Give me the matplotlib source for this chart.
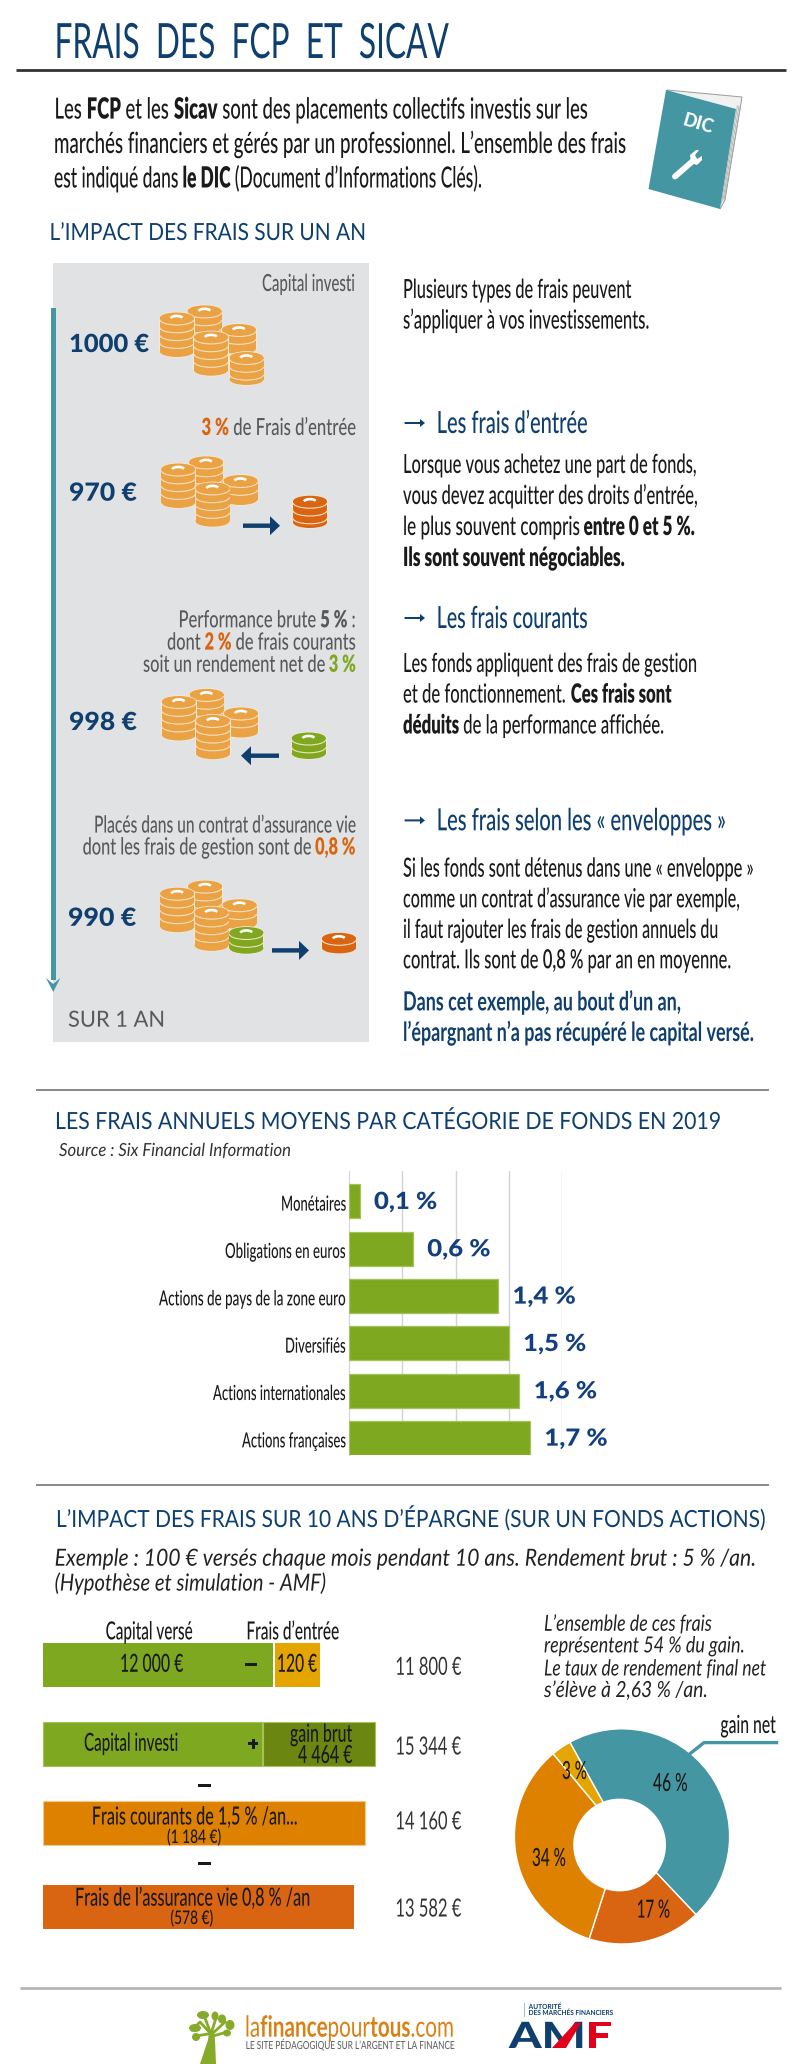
import matplotlib
matplotlib.use("Agg")
import matplotlib.pyplot as plt
from matplotlib.patches import Rectangle, Ellipse, Polygon, Circle, Arc
from matplotlib.patheffects import AbstractPathEffect
from matplotlib.transforms import Affine2D
from matplotlib.font_manager import FontProperties

# ---------- data ----------
categories = ["Monétaires", "Obligations en euros", "Actions de pays de la zone euro",
              "Diversifiés", "Actions internationales", "Actions françaises"]
fee_values = [0.1, 0.6, 1.4, 1.5, 1.6, 1.7]
fee_labels = ["0,1 %", "0,6 %", "1,4 %", "1,5 %", "1,6 %", "1,7 %"]
category_widths = [65, 121, 187, 61, 133, 104]
donut_values = [46, 17, 34, 3]
donut_labels = ["46 %", "17 %", "34 %", "3 %"]
row_totals = ["11 800 €", "15 344 €", "14 160 €", "13 582 €"]
impact_amounts = ["1000 €", "970 €", "998 €", "990 €"]

NAVY = "#0f3f6e"; BLUE2 = "#123f7f"; TEAL = "#4596a3"; GRAY = "#58595b"; PANEL = "#e1e2e4"
COIN = "#eaa244"; ORANGE = "#d96512"; GREEN = "#7ea81f"; AMBER = "#de8000"; YEL = "#e5a500"
DGREEN = "#6b8712"; INK = "#1a1a1a"; RED = "#e2001a"

W, H = 800, 2064
fig = plt.figure(figsize=(W / 100, H / 100), dpi=100, facecolor="white")
bg = fig.add_axes([0, 0, 1, 1]); bg.set_xlim(0, W); bg.set_ylim(H, 0); bg.axis("off")
renderer = fig.canvas.get_renderer()


class Tall(AbstractPathEffect):
    """Draw a text taller than its font size, as in a condensed face, about its anchor."""
    def __init__(self, sx, sy, x0, y0):
        super().__init__()
        self.sx, self.sy, self.x0, self.y0 = sx, sy, x0, y0

    def draw_path(self, renderer, gc, tpath, affine, rgbFace=None):
        aff = affine + Affine2D().translate(-self.x0, -self.y0).scale(self.sx, self.sy).translate(self.x0, self.y0)
        renderer.draw_path(gc, tpath, aff, rgbFace)


def adv(s, size, weight, style):
    fp = FontProperties(family="Lato", size=size, weight=weight, style=style)
    a = renderer.get_text_width_height_descent("x" + s + "x", fp, False)[0]
    b = renderer.get_text_width_height_descent("xx", fp, False)[0]
    return a - b


def line(x0, x1, y, runs, size, color=INK, style="normal", weight="medium"):
    """Set a line between pixel columns x0 and x1 with its baseline at y; size gives the drawn height."""
    runs = [(r, {}) if isinstance(r, str) else r for r in runs]
    big = sum(adv(t, 40, k.get("weight", weight), style) for t, k in runs) * size / 40
    squeeze = (x1 - x0) / big
    fs = size * squeeze
    ws = [adv(t, fs, k.get("weight", weight), style) for t, k in runs]
    fine = (x1 - x0) / sum(ws)
    x = x0
    for (t, k), w in zip(runs, ws):
        bg.text(x, y, t, fontsize=fs, family="Lato", va="baseline", ha="left", style=style,
                color=k.get("color", color), weight=k.get("weight", weight),
                path_effects=[Tall(fine, 1 / squeeze, x, H - y)])
        x += w * fine


def rule(y, x0, x1, color, lw):
    bg.plot([x0, x1], [y, y], color=color, lw=lw, solid_capstyle="butt")


def rect(x0, y0, x1, y1, color, edge=None, z=1):
    bg.add_patch(Rectangle((x0, y0), x1 - x0, y1 - y0, facecolor=color,
                           edgecolor=edge if edge else "none", lw=0.8 if edge else 0, zorder=z))


_z = [3]
def stack(cx, top, bottom, color, rx=17, ry=5.5):
    _z[0] += 1; z = _z[0]
    pale = "#f6e9d6"
    bg.add_patch(Rectangle((cx - rx - .8, top + ry), 2 * rx + 1.6, bottom - top - 2 * ry, fc=pale, ec="none", zorder=z))
    bg.add_patch(Ellipse((cx, top + ry), 2 * rx + 1.6, 2 * ry + 1.6, fc=pale, ec="none", zorder=z))
    bg.add_patch(Ellipse((cx, bottom - ry), 2 * rx + 1.6, 2 * ry + 1.6, fc=pale, ec="none", zorder=z))
    bg.add_patch(Rectangle((cx - rx, top + ry), 2 * rx, bottom - top - 2 * ry, fc=color, ec="none", zorder=z))
    bg.add_patch(Ellipse((cx, bottom - ry), 2 * rx, 2 * ry, fc=color, ec="none", zorder=z))
    bg.add_patch(Ellipse((cx, top + ry), 2 * rx, 2 * ry, fc=color, ec="none", zorder=z))
    y = top + ry + 1.5
    while y < bottom - ry - 3:
        bg.add_patch(Arc((cx, y), 2 * rx, 2 * ry, theta1=0, theta2=180, ec="#f6dfc0", lw=0.8, zorder=z))
        y += 7.8
    bg.add_patch(Arc((cx, top + ry + 1.2), 13, 6.5, theta1=190, theta2=345, ec="white", lw=1.9, zorder=z))


def main_pile(dx, dy, last=True):
    stack(204.6 + dx, 305.4 + dy, 345 + dy, COIN)
    stack(239 + dx, 324 + dy, 354 + dy, COIN)
    stack(176.8 + dx, 312.5 + dy, 357 + dy, COIN)
    stack(211 + dx, 331.4 + dy, 375.7 + dy, COIN)
    if last:
        stack(246.5 + dx, 352 + dy, 385 + dy, COIN)


def block_arrow(x0, x1, y, right=True):
    head = 10
    if right:
        pts = [(x0, y - 2.2), (x1 - head, y - 2.2), (x1 - head, y - 9.5), (x1, y), (x1 - head, y + 9.5),
               (x1 - head, y + 2.2), (x0, y + 2.2)]
    else:
        pts = [(x1, y - 2.2), (x0 + head, y - 2.2), (x0 + head, y - 9.5), (x0, y), (x0 + head, y + 9.5),
               (x0 + head, y + 2.2), (x1, y + 2.2)]
    bg.add_patch(Polygon(pts, fc=NAVY, ec="none", zorder=60))


def thin_arrow(y):
    x0, x1 = 404.6, 425
    bg.add_patch(Polygon([(x0, y - 1), (x1 - 5, y - 1), (x1 - 5, y - 4), (x1, y), (x1 - 5, y + 4), (x1 - 5, y + 1), (x0, y + 1)],
                         fc=NAVY, ec="none"))


B = {"weight": "heavy"}

# ---------- header ----------
line(54.5, 449, 58, ["FRAIS  DES  FCP  ET  SICAV"], 35, NAVY, weight="normal")
rule(70, 16, 786, "#333333", 2)
line(54.5, 590, 118.6, ["Les ", ("FCP", B), " et les ", ("Sicav", B), " sont des placements collectifs investis sur les"], 21)
line(54, 625, 153, ["marchés financiers et gérés par un professionnel. L’ensemble des frais"], 21)
line(54, 482, 187.5, ["est indiqué dans ", ("le DIC", B), " (Document d’Informations Clés)."], 21)

# DIC book
bg.add_patch(Polygon([(667, 90), (742, 97), (725, 200), (720, 209), (700, 150)], fc="#f1f1f1", ec="#9a9a9a", lw=0.7))
for k in range(1, 4):
    bg.plot([736 + k * 1.5, 720 + k * 1.4], [105 + k * .5, 205 - k * 2], color="#a8a8a8", lw=0.5)
bg.add_patch(Polygon([(666, 90), (736, 109), (720, 209), (648.5, 189)], fc=TEAL, ec="none"))
bg.text(698, 124, "DIC", color="white", fontsize=13, weight="black", family="Lato", rotation=-16,
        ha="center", va="center")
bg.plot([675, 694], [176.5, 160], color="white", lw=4.2, solid_capstyle="round")
bg.add_patch(Polygon([(691, 163), (690, 155), (696, 150), (699, 150), (695, 155), (697, 159), (702, 156), (702, 160), (697, 165)],
                     fc="white", ec="none"))

# ---------- one-year panel ----------
line(49.5, 366, 240, ["L’IMPACT DES FRAIS SUR UN AN"], 17, NAVY, weight="normal")
rect(52.5, 262.5, 369, 1041.6, PANEL, z=0.5)
bg.add_patch(Rectangle((51, 308), 4.5, 672, fc=TEAL, ec="none", zorder=3))
bg.add_patch(Polygon([(46, 978), (53.2, 984), (60.3, 978), (53.2, 992)], fc=TEAL, ec="none", zorder=3))

R = 355.6
OR = {"color": ORANGE, "weight": "heavy"}
GR = {"color": GREEN, "weight": "heavy"}
DK = {"weight": "heavy"}
line(262, R, 291, ["Capital investi"], 17, GRAY)
line(69, 149.5, 352, [impact_amounts[0]], 18, NAVY, weight="black")
main_pile(0, 0)

line(201.5, R, 435, [("3 %", OR), " de Frais d’entrée"], 17, GRAY)
line(69, 137, 500.7, [impact_amounts[1]], 18, NAVY, weight="black")
main_pile(1.5, 151, last=False)
stack(310, 495.7, 528, ORANGE)
block_arrow(243, 280, 525.7)

line(178.5, R, 627.3, ["Performance brute ", ("5 %", DK), " :"], 17, GRAY)
line(167, R, 649.6, ["dont ", ("2 %", OR), " de frais courants"], 17, GRAY)
line(143, R, 671.8, ["soit un rendement net de ", ("3 %", GR)], 17, GRAY)
line(69, 137, 730, [impact_amounts[2]], 18, NAVY, weight="black")
main_pile(2, 383.5, last=False)
stack(308.7, 732.5, 759, GREEN)
block_arrow(241, 279, 755.7, right=False)

line(94, R, 832.6, ["Placés dans un contrat d’assurance vie"], 17, GRAY)
line(82.6, R, 854.5, ["dont les frais de gestion sont de ", ("0,8 %", OR)], 17, GRAY)
line(68, 136.5, 925.8, [impact_amounts[3]], 18, NAVY, weight="black")
main_pile(0.5, 575.2, last=False)
stack(246.4, 927, 953.7, GREEN)
stack(339, 932.8, 953.4, ORANGE)
block_arrow(272, 309, 950.4)
line(68, 165, 1026.7, ["SUR 1 AN"], 16, GRAY, weight="normal")

# ---------- right column ----------
XT = 403
line(XT, 631.6, 298, ["Plusieurs types de frais peuvent"], 19)
line(XT, 649, 328.6, ["s’appliquer à vos investissements."], 19)
thin_arrow(423)
line(436.7, 588, 433, ["Les frais d’entrée"], 22, NAVY)
line(XT, 696.4, 473, ["Lorsque vous achetez une part de fonds,"], 19)
line(XT, 697.5, 504, ["vous devez acquitter des droits d’entrée,"], 19)
line(XT, 694, 535, ["le plus souvent compris ", ("entre 0 et 5 %.", B)], 19)
line(XT, 623.5, 566, [("Ils sont souvent négociables.", B)], 19)
thin_arrow(618)
line(436.7, 588, 628, ["Les frais courants"], 22, NAVY)
line(XT, 697.5, 672, ["Les fonds appliquent des frais de gestion"], 19)
line(XT, 671.4, 702.6, ["et de fonctionnement. ", ("Ces frais sont", B)], 19)
line(XT, 663, 733.5, [("déduits", B), " de la performance affichée."], 19)
thin_arrow(820.4)
line(436.7, 725.5, 830.3, ["Les frais selon les « enveloppes »"], 22, NAVY)
line(XT, 752.5, 876.7, ["Si les fonds sont détenus dans une « enveloppe »"], 19)
line(XT, 741, 907.3, ["comme un contrat d’assurance vie par exemple,"], 19)
line(XT, 718.4, 938, ["il faut rajouter les frais de gestion annuels du"], 19)
line(XT, 731, 968.3, ["contrat. Ils sont de ", ("0,8 %", {"weight": "semibold"}), " par an en moyenne."], 19)
line(XT, 681, 1010.4, ["Dans cet exemple, au bout d’un an,"], 19, NAVY, weight="bold")
line(XT, 755, 1041, ["l’épargnant n’a pas récupéré le capital versé."], 19, NAVY, weight="bold")

# ---------- bar chart ----------
rule(1090, 35.7, 769, "#808080", 1.3)
line(55, 723.5, 1129, ["LES FRAIS ANNUELS MOYENS PAR CATÉGORIE DE FONDS EN 2019"], 17, NAVY, weight="normal")
line(59, 291, 1156, ["Source : Six Financial Information"], 13, "#333333", style="italic", weight="normal")

ax_top, ax_bot, ax_l, ax_r = 1170.7, 1455, 349, 562
ax = fig.add_axes([ax_l / W, 1 - ax_bot / H, (ax_r - ax_l) / W, (ax_bot - ax_top) / H], zorder=2)
ax.patch.set_alpha(0)
ax.set_xlim(0, 2)
ax.set_ylim(5.36, -0.645)
ax.barh(range(len(categories)), fee_values, height=0.72, color=GREEN, edgecolor="#a3c25a", lw=0.9, zorder=3)
ax.set_xticks([0.5, 1, 1.5, 2]); ax.set_xticklabels([]); ax.set_yticks([])
ax.tick_params(length=0)
ax.grid(axis="x", color="#d3d3d3", lw=1); ax.set_axisbelow(True)
for s in ("top", "right", "bottom"):
    ax.spines[s].set_visible(False)
ax.spines["left"].set_color("#d3d3d3")
for i, (c, w, v, l) in enumerate(zip(categories, category_widths, fee_values, fee_labels)):
    px, py = ax.transData.transform((v, i))
    py = H - py
    line(346 - w, 346, py + 9.4, [c], 15)
    line(px + 14.3, px + 14.3 + 63.5, py + 7.7, [l], 17, BLUE2, weight="black")

# ---------- ten-year section ----------
rule(1484.5, 36, 769, "#808080", 1.3)
line(56, 766, 1527, ["L’IMPACT DES FRAIS SUR 10 ANS D’ÉPARGNE (SUR UN FONDS ACTIONS)"], 17, NAVY, weight="normal")
line(54.6, 756, 1565.7, ["Exemple : 100 € versés chaque mois pendant 10 ans. Rendement brut : 5 % /an."], 17, "#222222", style="italic", weight="normal")
line(54.6, 326.5, 1590.6, ["(Hypothèse et simulation - AMF)"], 17, "#222222", style="italic", weight="normal")

line(105.6, 193, 1639.4, ["Capital versé"], 18)
line(246.4, 340, 1639.4, ["Frais d’entrée"], 18)
rect(43.4, 1643, 273, 1686.7, GREEN)
rect(275, 1643, 320, 1686.7, YEL)
line(120, 183.7, 1671.8, ["12 000 €"], 18)
line(277, 317.3, 1671.8, ["120 €"], 18)
rect(245, 1662.5, 256.6, 1665.5, INK)

rect(43.4, 1722, 262, 1765.7, GREEN, edge="#a3c25a")
rect(262.8, 1722, 374.5, 1765.7, DGREEN, edge="#a3c25a")
line(84, 178.6, 1750.8, ["Capital investi"], 18)
line(290, 352.6, 1741.8, ["gain brut"], 18)
line(298, 352.6, 1763, ["4 464 €"], 18)
rect(248, 1742.2, 258, 1745.2, INK)
rect(251.5, 1738.5, 254.5, 1749, INK)

rect(198, 1784, 210.7, 1787, INK)
rect(43.4, 1801.4, 365.3, 1845.4, AMBER, edge="#f2c98a")
line(91.8, 297, 1824.5, ["Frais courants de 1,5 % /an..."], 18)
line(167, 221.4, 1843, ["(1 184 €)"], 13.5)

rect(198, 1862, 210.7, 1865, INK)
rect(43.4, 1885, 353.6, 1928.8, ORANGE)
line(75, 309.7, 1905.7, ["Frais de l’assurance vie 0,8 % /an"], 18)
line(170.4, 213.3, 1924, ["(578 €)"], 13.5)

for t, y in zip(row_totals, [1674.8, 1754.5, 1829.3, 1916.5]):
    line(395.4, 461, y, [t], 18, "#333333", weight="normal")

line(544, 711.7, 1630.8, ["L’ensemble de ces frais"], 16, "#222222", style="italic", weight="normal")
line(544, 745, 1652.4, ["représentent 54 % du gain."], 16, "#222222", style="italic", weight="normal")
line(544, 766, 1675.5, ["Le taux de rendement final net"], 16, "#222222", style="italic", weight="normal")
line(544, 707.6, 1697, ["s’élève à 2,63 % /an."], 16, "#222222", style="italic", weight="normal")

# donut
cx, cy, rad = 622, 1836.4, 107.6
pie_ax = fig.add_axes([(cx - rad) / W, 1 - (cy + rad) / H, 2 * rad / W, 2 * rad / H], zorder=2)
pie_ax.patch.set_alpha(0)
pie_ax.pie(donut_values, colors=[TEAL, ORANGE, AMBER, YEL], startangle=119, counterclock=False, radius=1,
           wedgeprops=dict(edgecolor="white", linewidth=1))
pie_ax.set_xlim(-1, 1); pie_ax.set_ylim(-1, 1)
pie_ax.add_patch(Circle(((619.6 - cx) / rad, (cy - 1845) / rad), 46.4 / rad, fc="white", ec="none", zorder=5))
bg.set_zorder(3); bg.patch.set_alpha(0)
for t, (a, b, y) in zip(donut_labels, [(653, 687.8, 1791), (636.7, 670, 1917.6), (532, 566, 1866), (562, 586.7, 1779)]):
    line(a, b, y, [t], 18)
line(720.4, 776, 1733, ["gain net"], 18)
bg.plot([690, 704, 776.5], [1753.7, 1742.6, 1742.6], color=TEAL, lw=2.4)

# ---------- footer ----------
rule(1988.4, 20.4, 781, "#b5b5b5", 2)
TG = "#86ab2a"
bg.add_patch(Polygon([(200, 2064), (208, 2040), (209, 2032), (214, 2032), (215, 2040), (216, 2064)], fc=TG, ec="none"))
for pts in ([(211, 2034), (200, 2022), (192, 2030)], [(211, 2034), (205, 2018)], [(211, 2034), (216, 2018)],
            [(212, 2034), (225, 2022)], [(213, 2036), (227, 2032)], [(208, 2034), (196, 2036)]):
    bg.plot(*zip(*pts), color=TG, lw=2)
for x, y, a, b in [(203, 2015, 12, 8), (215, 2016, 7, 9), (222, 2019, 8, 9), (230, 2025, 9, 10), (227, 2033, 8, 7),
                   (195, 2028, 12, 8), (196, 2037, 8, 8)]:
    bg.add_patch(Ellipse((x, y), a, b, fc=TG, ec="none"))
LO = "#d98016"
line(245, 454, 2036.7, ["la", ("finance", {"weight": "bold"}), "pour", ("tous", {"weight": "bold"}), ".com"], 21, LO, weight="normal")
line(245.7, 455, 2049, ["LE SITE PÉDAGOGIQUE SUR L’ARGENT ET LA FINANCE"], 8, "#666666")
rect(524, 2003, 525, 2017.4, "#a9bdd0")
line(528.6, 561, 2009, ["AUTORITÉ"], 5, NAVY, weight="bold")
line(528.6, 612, 2015, ["DES MARCHÉS FINANCIERS"], 5, NAVY, weight="bold")
line(509, 612, 2048, [("A", {"color": NAVY}), ("M", {"color": NAVY}), ("F", {"color": RED})], 26, weight="black")
bg.add_patch(Polygon([(552, 2048), (575, 2023), (581, 2023), (566, 2048)], fc=RED, ec="none", zorder=30))

fig.savefig("out.png", dpi=100, facecolor="white")
